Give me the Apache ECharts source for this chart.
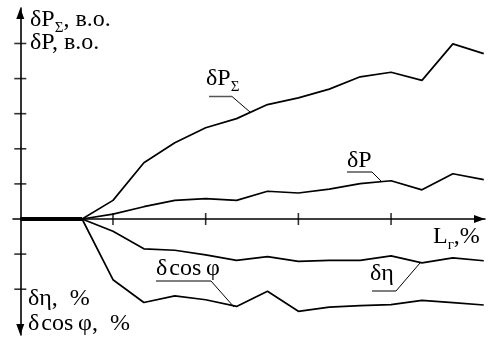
<!DOCTYPE html>
<html>
<head>
<meta charset="utf-8">
<script src="https://cdn.jsdelivr.net/npm/echarts@6/dist/echarts.min.js"></script>
<style>
  html, body { margin: 0; padding: 0; background: #fff; }
  #chart { width: 489px; height: 343px; }
</style>
</head>
<body>
<div id="chart"></div>
<script>
// Load steps along L_г (three steps per tick division)
const steps = [0, 1, 2, 3, 4, 5, 6, 7, 8, 9, 10, 11, 12, 13, 14, 15];

// Relative losses, в.о. (upper half)
const dPsum = [0, 0, 0, 0.53, 1.60, 2.17, 2.60, 2.86, 3.26, 3.45, 3.70, 4.05, 4.18, 3.95, 4.99, 4.71];
const dP    = [0, 0, 0, 0.14, 0.35, 0.53, 0.58, 0.53, 0.79, 0.74, 0.85, 1.01, 1.09, 0.83, 1.29, 1.12];

// Efficiency and power factor deviations, % (lower half, plotted downward)
const dEta  = [0, 0, 0, -0.35, -0.85, -0.89, -1.02, -1.18, -1.07, -1.21, -1.18, -1.18, -1.05, -1.25, -1.11, -1.19];
const dCos  = [0, 0, 0, -1.73, -2.38, -2.19, -2.30, -2.49, -2.06, -2.63, -2.51, -2.47, -2.44, -2.32, -2.38, -2.45];

// Tick marks (unlabelled)
const xTicks = [3, 6, 9, 12];
const yTicks = [-2, -1, 1, 2, 3, 4, 5];

const pairs = (ys) => steps.map((x, i) => [x, ys[i]]);

// Stretch where all four curves coincide at zero
const shared = steps.filter((x, i) => dPsum[i] === 0 && dP[i] === 0 && dEta[i] === 0 && dCos[i] === 0)
                    .map(x => [x, 0]);

const FAMILY = 'Liberation Serif';
const INK = '#000';

const measureCtx = document.createElement('canvas').getContext('2d');
function textWidth(str, size) {
  measureCtx.font = size + 'px "' + FAMILY + '"';
  return measureCtx.measureText(str).width;
}

// Text placed by its alphabetic baseline
function txt(x, baseline, str, size) {
  return {
    type: 'text', x, y: baseline - 0.83 * size, silent: true,
    style: { text: str, fill: INK, fontFamily: FAMILY, fontSize: size, verticalAlign: 'top', align: 'left' }
  };
}

// Main text followed by a subscript and optional tail text
function subText(x, baseline, main, sub, tail, size) {
  const subSize = Math.round(size * 0.62);
  const w1 = textWidth(main, size);
  const out = [txt(x, baseline, main, size), txt(x + w1, baseline + size * 0.2, sub, subSize)];
  if (tail) out.push(txt(x + w1 + textWidth(sub, subSize), baseline, tail, size));
  return out;
}

function leader(pts) {
  return [
    { type: 'line', silent: true, shape: { x1: pts[0][0], y1: pts[0][1], x2: pts[1][0], y2: pts[1][1] },
      style: { stroke: '#555', lineWidth: 1.5 } },
    { type: 'line', silent: true, shape: { x1: pts[1][0], y1: pts[1][1], x2: pts[2][0], y2: pts[2][1] },
      style: { stroke: INK, lineWidth: 1 } }
  ];
}

const chart = echarts.init(document.getElementById('chart'), null, { renderer: 'canvas' });

const curve = (name, ys) => ({
  name, type: 'line', data: pairs(ys), symbol: 'none', smooth: false,
  lineStyle: { color: INK, width: 1.7 }, z: 3, silent: true
});

const COS = 'δ\u200Acos\u2009φ';

const option = {
  animation: false,
  backgroundColor: '#fff',
  grid: { left: 13, right: 4, top: 8, bottom: 8, containLabel: false },
  xAxis: {
    type: 'value', min: -0.236, max: 15.04,
    axisLine: {
      onZero: true, symbol: ['none', 'triangle'], symbolSize: [8, 11], symbolOffset: [0, -5.5],
      lineStyle: { color: INK, width: 1.6 }
    },
    axisTick: { show: false }, axisLabel: { show: false }, splitLine: { show: false }
  },
  yAxis: {
    type: 'value', min: -3.305, max: 6.011,
    axisLine: {
      onZero: true, symbol: ['triangle', 'triangle'], symbolSize: [8, 11], symbolOffset: [5.5, -5.5],
      lineStyle: { color: INK, width: 1.6 }
    },
    axisTick: { show: false }, axisLabel: { show: false }, splitLine: { show: false }
  },
  series: [
    curve('δPΣ', dPsum),
    curve('δP', dP),
    curve('δη', dEta),
    curve('δcosφ', dCos),
    { name: 'common', type: 'line', data: shared, symbol: 'none', lineStyle: { color: INK, width: 4 }, z: 4, silent: true },
    { name: 'xticks', type: 'scatter', data: xTicks.map(v => [v, 0]), symbol: 'rect', symbolSize: [1.6, 12],
      itemStyle: { color: INK }, z: 5, silent: true },
    { name: 'yticks', type: 'scatter', data: yTicks.map(v => [0, v]), symbol: 'rect', symbolSize: [12, 1.6],
      itemStyle: { color: INK }, z: 5, silent: true }
  ],
  graphic: [
    // axis captions
    ...subText(30, 28, 'δP', 'Σ', ', в.о.', 24),
    txt(30, 51, 'δP, в.о.', 24),
    txt(28, 307, 'δη,  %', 24),
    txt(28, 332, COS + ',  %', 24),
    ...subText(433, 245, 'L', 'г', ',%', 24),
    // curve captions
    ...subText(206, 87, 'δP', 'Σ', '', 24),
    ...leader([[209, 96.5], [232, 96.5], [250, 112]]),
    txt(347, 169, 'δP', 24),
    ...leader([[347, 172], [372, 172], [382, 182]]),
    txt(156, 277, COS, 24),
    ...leader([[156, 281], [211, 281], [234, 307]]),
    txt(370, 282, 'δη', 24),
    ...leader([[372, 291], [396, 291], [420, 263]])
  ]
};

chart.setOption(option);
</script>
</body>
</html>
